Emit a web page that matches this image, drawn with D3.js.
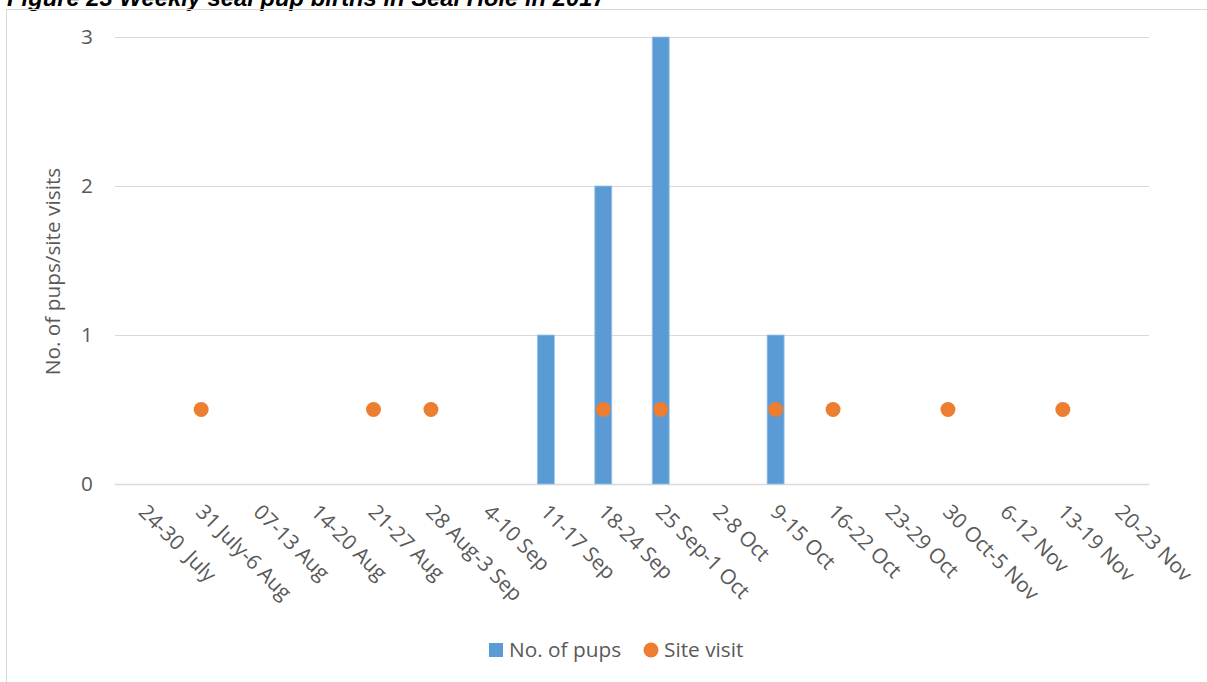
<!DOCTYPE html>
<html>
<head>
<meta charset="utf-8">
<script src="https://cdn.jsdelivr.net/npm/d3@7"></script>
<style>
  html, body { margin: 0; padding: 0; background: #fff; }
  svg { display: block; }
</style>
</head>
<body>
<svg id="chart" width="1207" height="682"></svg>
<script>
// Weekly seal pup births and site visits, 2017
const weeks = ["24-30  July", "31 July-6 Aug", "07-13 Aug", "14-20 Aug", "21-27 Aug",
  "28 Aug-3 Sep", "4-10 Sep", "11-17 Sep", "18-24 Sep", "25 Sep-1 Oct", "2-8 Oct",
  "9-15 Oct", "16-22 Oct", "23-29 Oct", "30 Oct-5 Nov", "6-12 Nov", "13-19 Nov", "20-23 Nov"];
const pups = [0, 0, 0, 0, 0, 0, 0, 1, 2, 3, 0, 1, 0, 0, 0, 0, 0, 0];
const siteVisits = [null, 0.5, null, null, 0.5, 0.5, null, null, 0.5, 0.5, null, 0.5, 0.5, null, 0.5, null, 0.5, null];
const yTicks = [0, 1, 2, 3];

const svg = d3.select("#chart");
const font = "'Open Sans', Lato, sans-serif";
const fontSize = 20.8;
const textColor = "#595959";
const gridColor = "#d9d9d9";

// Figure caption (sits at the very top, partly clipped)
svg.append("text")
  .attr("x", 7).attr("y", 6)
  .attr("font-family", "'Liberation Sans', Arial, sans-serif")
  .attr("font-weight", "bold").attr("font-style", "italic")
  .attr("font-size", 23.8).attr("fill", "#000")
  .text("Figure 23 Weekly seal pup births in Seal Hole in 2017");

// Chart frame
svg.append("path")
  .attr("d", "M6.5,682 V9.5 H1207")
  .attr("fill", "none").attr("stroke", gridColor).attr("stroke-width", 1);

const plot = { left: 115, right: 1149, top: 37, bottom: 484 };

const x = d3.scaleBand().domain(weeks).range([plot.left, plot.right]).paddingInner(0).paddingOuter(0);
const y = d3.scaleLinear().domain([0, 3]).range([plot.bottom, plot.top]);

// Gridlines
svg.append("g").selectAll("line").data(yTicks).join("line")
  .attr("x1", plot.left).attr("x2", plot.right)
  .attr("y1", d => Math.round(y(d)) + 0.5).attr("y2", d => Math.round(y(d)) + 0.5)
  .attr("stroke", gridColor).attr("stroke-width", d => d === 0 ? 1.5 : 1);

// Y tick labels
svg.append("g").selectAll("text").data(yTicks).join("text")
  .attr("x", 93).attr("y", d => y(d))
  .attr("dy", "0.35em").attr("text-anchor", "end")
  .attr("font-family", font).attr("font-size", fontSize).attr("fill", textColor)
  .text(d => d);

// Y axis title
svg.append("text")
  .attr("transform", `translate(60,${(plot.top + plot.bottom) / 2 + 11}) rotate(-90)`)
  .attr("text-anchor", "middle")
  .attr("font-family", font).attr("font-size", fontSize).attr("fill", textColor)
  .text("No. of pups/site visits");

// Bars
const barW = 17;
svg.append("g").selectAll("rect").data(weeks.map((w, i) => ({ w, v: pups[i] })).filter(d => d.v > 0)).join("rect")
  .attr("x", d => x(d.w) + x.bandwidth() / 2 - barW / 2)
  .attr("y", d => y(d.v))
  .attr("width", barW)
  .attr("height", d => y(0) - y(d.v))
  .attr("fill", "#5b9bd5")
  .attr("stroke", "#9dc3e6").attr("stroke-width", 0.8);

// Site visit markers
svg.append("g").selectAll("circle").data(weeks.map((w, i) => ({ w, v: siteVisits[i] })).filter(d => d.v !== null)).join("circle")
  .attr("cx", d => x(d.w) + x.bandwidth() / 2)
  .attr("cy", d => y(d.v))
  .attr("r", 7.5)
  .attr("fill", "#ed7d31");

// X tick labels, rotated 45 degrees
svg.append("g").selectAll("text").data(weeks).join("text")
  .attr("transform", d => `translate(${x(d) + x.bandwidth() / 2 + 4},${plot.bottom + 19}) rotate(45)`)
  .attr("text-anchor", "start")
  .attr("dy", "0.7em")
  .attr("xml:space", "preserve")
  .style("white-space", "pre")
  .attr("font-family", font).attr("font-size", fontSize).attr("fill", textColor)
  .text(d => d);

// Legend
const legend = svg.append("g").attr("font-family", font).attr("font-size", fontSize).attr("fill", textColor);
legend.append("rect").attr("x", 489).attr("y", 643).attr("width", 14).attr("height", 14).attr("fill", "#5b9bd5");
legend.append("text").attr("x", 509).attr("y", 650).attr("dy", "0.35em").text("No. of pups");
legend.append("circle").attr("cx", 651).attr("cy", 650).attr("r", 7.5).attr("fill", "#ed7d31");
legend.append("text").attr("x", 664).attr("y", 650).attr("dy", "0.35em").text("Site visit");
</script>
</body>
</html>
